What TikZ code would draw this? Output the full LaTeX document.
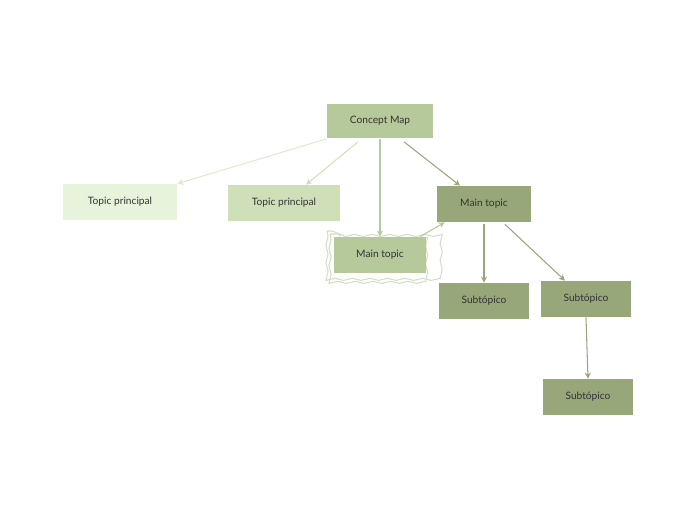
\documentclass[tikz,border=0pt]{standalone}
\usepackage{fontspec}
\setmainfont{Lato}
\usetikzlibrary{positioning,calc,arrows.meta,decorations.pathmorphing}
\definecolor{cmap}{HTML}{B5C99A}
\definecolor{tpone}{HTML}{E8F3DC}
\definecolor{tptwo}{HTML}{CFE0B8}
\definecolor{mdark}{HTML}{97A77A}
\definecolor{txt}{HTML}{333333}

\begin{document}
\begin{tikzpicture}[x=0.02cm, y=-0.02cm]
	\tikzstyle{every node}=[align=center, inner sep=1pt, text=txt, font=\fontsize{5.8}{7}\selectfont]
	\tikzset{
		topic/.style={minimum width=2.1cm, minimum height=0.72cm},
		link/.style={line width=0.6pt, -{Stealth[length=3.5pt,width=3.5pt]}}
	}
	\useasboundingbox (0,0) rectangle (697,520);

	\draw [cmap!60, line width=0.6pt, decorate, decoration={snake, amplitude=0.6pt, segment length=10pt}] (327,231) rectangle (435,280);
	\draw [cmap!60, line width=0.6pt, decorate, decoration={snake, amplitude=0.6pt, segment length=10pt}] (330,234) rectangle (432,277);

	\node [topic, fill=cmap, minimum width=2.12cm, minimum height=0.7cm] (cm)   at (380,121) {Concept Map};
	\node [topic, fill=tpone, minimum width=2.28cm] (tp1) at (120,202) {Topic principal};
	\node [topic, fill=tptwo, minimum width=2.26cm] (tp2) at (284,203) {Topic principal};
	\node [topic, fill=mdark, minimum width=1.88cm] (mt)  at (484,204) {Main topic};
	\node [topic, fill=cmap, minimum width=1.86cm]  (mts) at (380,255) {Main topic};

	\node [topic, fill=mdark, minimum width=1.82cm] (s1) at (484,301) {Subtópico};
	\node [topic, fill=mdark, minimum width=1.82cm] (s2) at (586,299) {Subtópico};
	\node [topic, fill=mdark, minimum width=1.82cm] (s3) at (588,397) {Subtópico};

	\draw [link, tpone!80!cmap] (cm.south west) to (tp1.north east);
	\draw [link, tptwo] ($(cm.south)+(-22,3)$) to ($(tp2.north)+(22,0)$);
	\draw [link, cmap] (cm.south) to (mts.north);
	\draw [link, mdark] ($(cm.south)+(24,3)$) to ($(mt.north)+(-24,0)$);
	\draw [link, cmap] ($(mts.north)+(40,0)$) to ($(mt.south west)+(8,0)$);

	\draw [link, mdark] ($(mt.south)+(0,2)$) to (s1.north);
	\draw [link, mdark] ($(mt.south)+(21,2)$) to ($(s2.north)+(-21,0)$);
	\draw [link, mdark] (s2.south) to (s3.north);
\end{tikzpicture}
\end{document}
